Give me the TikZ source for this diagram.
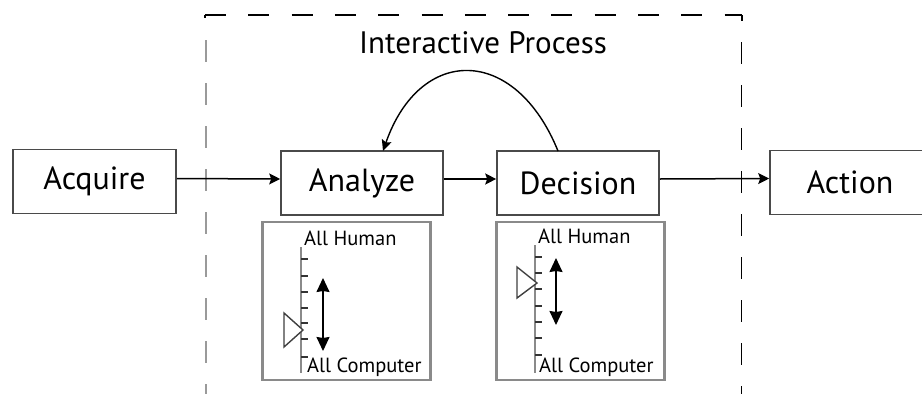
\documentclass[tikz,border=0pt]{standalone}
\usepackage{fontspec}
\setmainfont{PT Sans}
\usetikzlibrary{arrows.meta}
\definecolor{boxline}{HTML}{4A4A4A}
\definecolor{panelline}{HTML}{8A8A8A}
\definecolor{leftdash}{HTML}{9A9A9A}
\tikzset{
  stagebox/.style={draw=boxline, line width=1.6pt, fill=white,
    minimum width=162pt, minimum height=64pt, inner sep=0pt,
    font=\fontsize{32}{34}\selectfont},
  flow/.style={draw=black, line width=1.5pt,
    -{Stealth[length=11pt,width=11pt,inset=2pt]}},
  panelbox/.style={draw=panelline, line width=2.2pt},
  scaleline/.style={draw=panelline, line width=2.4pt},
  scaletick/.style={draw=black!80, line width=1.4pt},
  levelmark/.style={draw=black!75, line width=1.4pt, fill=white},
  rangearrow/.style={draw=black, line width=1.5pt,
    {Stealth[length=14pt,width=13pt,inset=1pt]}-{Stealth[length=14pt,width=13pt,inset=1pt]}},
  scalelabel/.style={inner sep=0pt, anchor=base west,
    font=\fontsize{20.5}{22}\selectfont},
  framedash/.style={line width=1.6pt}
}
\begin{document}
\begin{tikzpicture}[x=1pt,y=-1pt]
\useasboundingbox (0,0) rectangle (922,394);
\fill[white] (0,0) rectangle (922,394);
\clip (0,0) rectangle (922,394);

% dashed frame of the interactive process (open at the bottom)
\draw[framedash, black, dash pattern=on 21pt off 22.3pt] (205,15) -- (742,15);
\draw[framedash, black] (742,15) -- (742,21);
\draw[framedash, black] (205,15) -- (205,18);
\draw[framedash, black, dash pattern=on 22pt off 21pt] (741.5,42) -- (741.5,394);
\draw[framedash, leftdash, line width=2.2pt, dash pattern=on 22pt off 21pt] (206,40) -- (206,394);

\node[font=\fontsize{31}{34}\selectfont] (title) at (483,43) {Interactive Process};

% stages
\node[stagebox, minimum width=163pt] (acq) at (94.5,181.5) {Acquire};
\node[stagebox] (ana) at (362,183) {Analyze};
\node[stagebox] (dec) at (578,183) {Decision};
\node[stagebox, minimum width=160pt] (act) at (850,182.5) {Action};

\draw[flow] ([yshift=3pt]acq.east) -- ([yshift=4pt]ana.west);
\draw[flow] ([yshift=4pt]ana.east) -- ([yshift=4pt]dec.west);
\draw[flow] ([yshift=4pt]dec.east) -- ([yshift=4pt]act.west);

% feedback loop from Decision back to Analyze
\coordinate (loopout) at (558,151);
\coordinate (loopin) at (383,151);
\draw[draw=black, line width=1.4pt, -{Stealth[length=11pt,width=10pt,inset=2pt]}]
  (loopout) .. controls (515,45) and (420,45) .. (loopin);

% automation-level panel under Analyze
\node[panelbox, minimum width=168pt, minimum height=158pt, inner sep=0pt] (pa) at (346.5,301) {};
\draw[scaleline] (301,247) -- (301,373);
\foreach \ty in {259,276,292,308,323,339,357}
  \draw[scaletick] (301,\ty) -- (308,\ty);
\draw[levelmark] (284,313) -- (303,330) -- (284,347) -- cycle;
\coordinate (pa-top) at (323,278);
\coordinate (pa-bot) at (323,351);
\draw[rangearrow] (pa-top) -- (pa-bot);
\node[scalelabel] (pa-h) at (304,245) {All Human};
\node[scalelabel] (pa-c) at (307,372) {All Computer};

% automation-level panel under Decision
\node[panelbox, minimum width=168pt, minimum height=158pt, inner sep=0pt] (pd) at (580.5,301) {};
\draw[scaleline] (535,245) -- (535,373);
\foreach \ty in {257,273,289,306,322,338,355}
  \draw[scaletick] (535,\ty) -- (542,\ty);
\draw[levelmark] (517,267) -- (537,283) -- (517,298) -- cycle;
\coordinate (pd-top) at (556,258);
\coordinate (pd-bot) at (556,325);
\draw[rangearrow] (pd-top) -- (pd-bot);
\node[scalelabel] (pd-h) at (538,243) {All Human};
\node[scalelabel] (pd-c) at (539,372) {All Computer};
\end{tikzpicture}
\end{document}
